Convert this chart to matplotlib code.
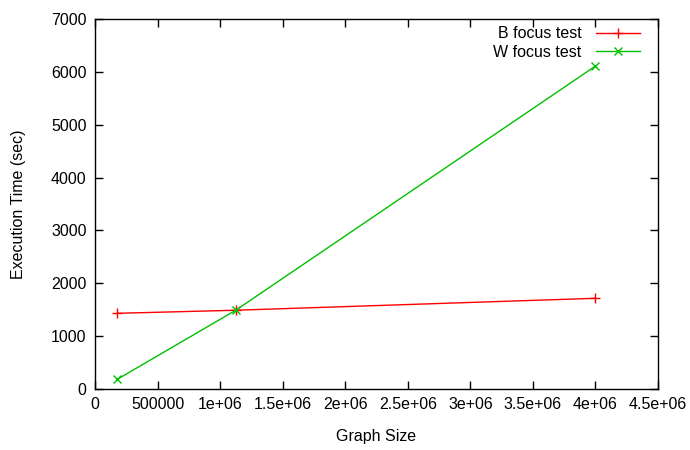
import matplotlib
matplotlib.use("Agg")
import matplotlib.pyplot as plt
from matplotlib.ticker import FixedLocator, FixedFormatter

plt.rcParams['font.family'] = ['Liberation Sans', 'DejaVu Sans']

graph_size = [178000, 1125000, 4000000]
b_times = [1432, 1490, 1716]
w_times = [183, 1490, 6110]

x_ticks = [0, 500000, 1000000, 1500000, 2000000, 2500000, 3000000, 3500000, 4000000, 4500000]
x_labels = ["0", "500000", "1e+06", "1.5e+06", "2e+06", "2.5e+06", "3e+06", "3.5e+06", "4e+06", "4.5e+06"]
y_ticks = [0, 1000, 2000, 3000, 4000, 5000, 6000, 7000]

FS = 11.5

fig = plt.figure(figsize=(6.9, 4.5), dpi=100)
ax = fig.add_axes([95/690, 61/450, 563/690, 370/450])

ax.plot(graph_size, b_times, color='#ff0000', lw=1, marker='+', ms=7, mew=1, label='B focus test')
ax.plot(graph_size, w_times, color='#00c000', lw=1, marker='x', ms=5.5, mew=1, label='W focus test')

ax.set_xlim(0, 4500000)
ax.set_ylim(0, 7000)
ax.xaxis.set_major_locator(FixedLocator(x_ticks))
ax.xaxis.set_major_formatter(FixedFormatter(x_labels))
ax.set_yticks(y_ticks)
ax.tick_params(direction='in', top=True, right=True, length=6, width=1, labelsize=FS, pad=6)
for s in ax.spines.values():
    s.set_linewidth(1)

ax.set_xlabel('Graph Size', fontsize=FS, labelpad=12)
ax.set_ylabel('Execution Time (sec)', fontsize=FS, labelpad=18)

ax.legend(loc='upper right', bbox_to_anchor=(0.979, 0.997), frameon=False, markerfirst=False,
          fontsize=FS, handlelength=2.75, borderaxespad=0, labelspacing=0.2, handletextpad=0.9)

fig.savefig('out.png', dpi=100)
